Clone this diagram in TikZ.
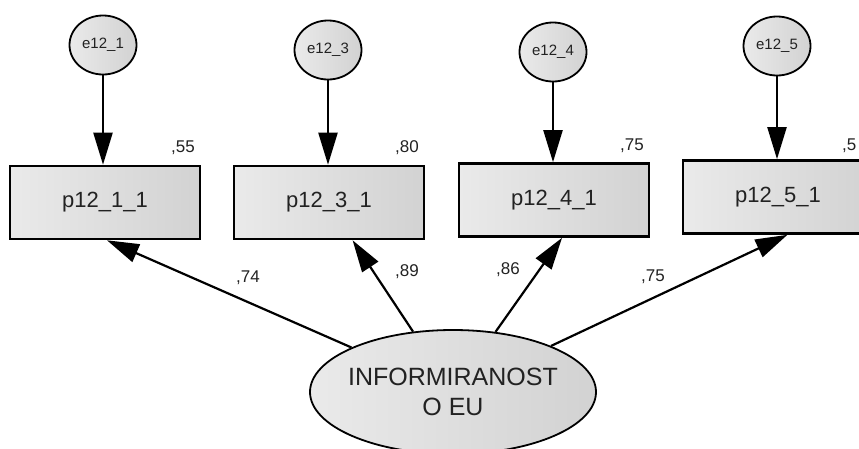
\documentclass[tikz,border=0pt]{standalone}
\usepackage{fontspec}
\setmainfont{Liberation Sans}
\usetikzlibrary{arrows.meta,shapes.geometric}
\definecolor{fillL}{HTML}{EAEAEA}
\definecolor{fillR}{HTML}{D2D2D2}
\definecolor{txt}{HTML}{222222}

\begin{document}
\begin{tikzpicture}[x=1pt,y=-1pt]
        \tikzset{obs/.style={draw,line width=2.6pt,left color=fillL,right color=fillR,
                minimum width=190pt,minimum height=73pt,text=txt,font=\fontsize{22}{26}\selectfont},
            err/.style={draw,ellipse,line width=1.8pt,left color=fillL,right color=fillR,
                minimum width=67pt,minimum height=59pt,inner sep=0pt,text=txt,font=\fontsize{15}{17}\selectfont},
            lat/.style={draw,ellipse,line width=1.8pt,left color=fillL,right color=fillR,
                minimum width=286pt,minimum height=124pt,inner xsep=-6pt,inner ysep=0pt,
                align=center,text=txt,font=\fontsize{25}{30}\selectfont},
            lbl/.style={text=txt,inner sep=0pt,font=\fontsize{17}{19}\selectfont},
            path/.style={draw,line width=2.2pt,-{Triangle[length=32pt,width=19pt]}}}
        \useasboundingbox (0,0) rectangle (859,448);
        % observed variables
        \node[obs] (b1) at (105,202.5) {p12\_1\_1};
        \node[obs] (b2) at (329,202.5) {p12\_3\_1};
        \node[obs] (b3) at (554,200) {p12\_4\_1};
        \node[obs] (b4) at (778,197) {p12\_5\_1};
        % error terms
        \node[err] (e1) at (103,45) {e12\_1};
        \node[err] (e2) at (328,50) {e12\_3};
        \node[err] (e3) at (553,52) {e12\_4};
        \node[err] (e4) at (777,46) {e12\_5};
        % latent variable
        \node[lat] (f) at (453,392) {INFORMIRANOST\\O EU};
        \foreach \i in {1,...,4}
            \draw[path] (e\i.south) -- (e\i.south |- b\i.north);
        \draw[path] (f) -- (b1.-87);
        \draw[path] (f) -- (b2.-58);
        \draw[path] (f) -- (b3.-78);
        \draw[path] (f) -- (b4.-76);
        % estimates
        \node[lbl] (r1) at (183,148) {,55};
        \node[lbl] (r2) at (407,148) {,80};
        \node[lbl] (r3) at (632,146) {,75};
        \node[lbl,anchor=west] (r4) at (842,146) {,5};
        \node[lbl] (w1) at (248,278) {,74};
        \node[lbl] (w2) at (407,272) {,89};
        \node[lbl] (w3) at (508,270) {,86};
        \node[lbl] (w4) at (653,277) {,75};
    \end{tikzpicture}
\end{document}
